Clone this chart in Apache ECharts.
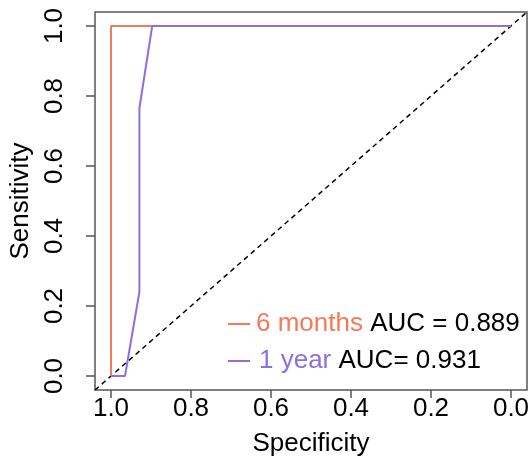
<!DOCTYPE html>
<html>
<head>
<meta charset="utf-8">
<script src="https://cdn.jsdelivr.net/npm/echarts@6/dist/echarts.min.js"></script>
<style>
  html, body { margin: 0; padding: 0; background: #fff; }
  #chart { width: 530px; height: 457px; }
</style>
</head>
<body>
<div id="chart"></div>
<script>
const ticks = [0, 0.2, 0.4, 0.6, 0.8, 1.0];

// 6 months ROC
const spec6m = [1, 1, 0];
const sens6m = [0, 1, 1];

// 1 year ROC
const spec1y = [1, 0.965, 0.929, 0.929, 0.897, 0];
const sens1y = [0, 0, 0.24, 0.765, 1, 1];

const names = ["6 months", "1 year"];
const aucText = ["AUC = 0.889", "AUC= 0.931"];

const font = "'Liberation Sans', Arial, sans-serif";
const fs = 26;
const orange = "#F47A5A";
const purple = "#8E6FE0";
const frame = "#555";

const zip = (xs, ys) => xs.map((x, i) => [x, ys[i]]);

const chart = echarts.init(document.getElementById("chart"), null, { renderer: "canvas" });

chart.setOption({
  animation: false,
  backgroundColor: "#fff",
  textStyle: { fontFamily: font },
  grid: {
    left: 95,
    right: 3,
    top: 12,
    bottom: 67,
    containLabel: false,
    outerBoundsMode: "none",
    show: true,
    borderColor: frame,
    borderWidth: 1.5,
    backgroundColor: "transparent",
  },
  legend: {
    orient: "vertical",
    left: 223,
    top: 306,
    itemWidth: 22,
    itemHeight: 2,
    itemGap: 11,
    icon: "rect",
    data: names,
    selectedMode: false,
    formatter: (name) => {
      const i = names.indexOf(name);
      return `{n${i}|${name}} {a|${aucText[i]}}`;
    },
    textStyle: {
      fontFamily: font,
      fontSize: fs,
      lineHeight: fs,
      rich: {
        n0: { color: orange, fontSize: fs, fontFamily: font, padding: [0, 0, 0, 1] },
        n1: { color: purple, fontSize: fs, fontFamily: font, padding: [0, 0, 0, 4] },
        a: { color: "#000", fontSize: fs, fontFamily: font },
      },
    },
  },
  xAxis: {
    type: "value",
    inverse: true,
    min: -0.04,
    max: 1.04,
    name: "Specificity",
    nameLocation: "middle",
    nameGap: 41,
    nameTextStyle: { color: "#000", fontSize: fs, fontFamily: font },
    splitLine: { show: false },
    axisLine: { show: false, onZero: false },
    axisTick: {
      show: true,
      length: 8,
      customValues: ticks,
      lineStyle: { color: frame, width: 1.5 },
    },
    axisLabel: {
      customValues: ticks,
      color: "#000",
      fontSize: fs,
      fontFamily: font,
      margin: 6,
      formatter: (v) => v.toFixed(1),
    },
  },
  yAxis: {
    type: "value",
    min: -0.04,
    max: 1.04,
    name: "Sensitivity",
    nameLocation: "middle",
    nameGap: 61,
    nameTextStyle: { color: "#000", fontSize: fs, fontFamily: font },
    splitLine: { show: false },
    axisLine: { show: false, onZero: false },
    axisTick: {
      show: true,
      length: 9,
      customValues: ticks,
      lineStyle: { color: frame, width: 1.5 },
    },
    axisLabel: {
      customValues: ticks,
      rotate: 90,
      color: "#000",
      fontSize: fs,
      fontFamily: font,
      margin: 27,
      formatter: (v) => v.toFixed(1),
    },
  },
  series: [
    {
      name: "diagonal",
      type: "line",
      data: [[1.04, -0.04], [-0.04, 1.04]],
      symbol: "none",
      silent: true,
      lineStyle: { color: "#000", width: 1.5, type: [5, 4] },
    },
    {
      name: names[0],
      type: "line",
      data: zip(spec6m, sens6m),
      symbol: "none",
      color: orange,
      lineStyle: { color: orange, width: 2 },
    },
    {
      name: names[1],
      type: "line",
      data: zip(spec1y, sens1y),
      symbol: "none",
      color: purple,
      lineStyle: { color: purple, width: 2 },
    },
  ],
});
</script>
</body>
</html>
